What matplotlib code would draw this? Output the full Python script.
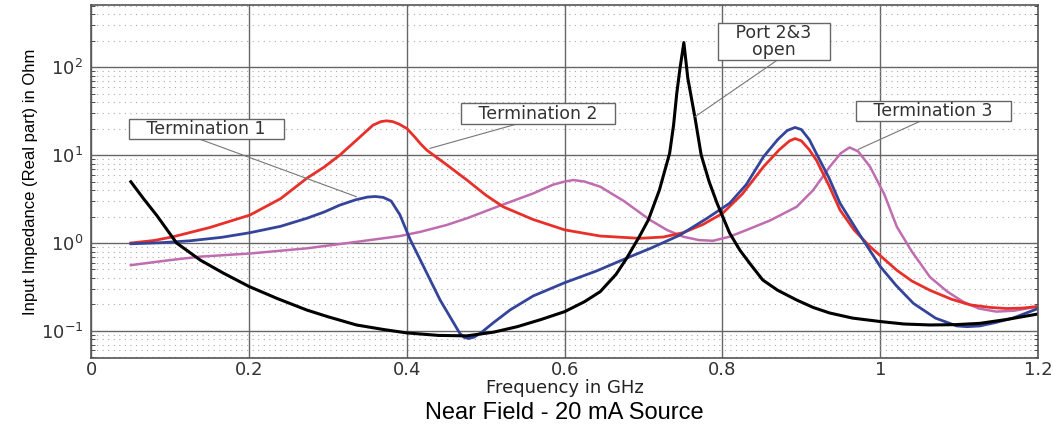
import matplotlib
matplotlib.use('Agg')
import matplotlib.pyplot as plt
from matplotlib.ticker import LogLocator, FixedLocator

# values (GHz, Ohm)
open_f = [0.05, 0.066, 0.083, 0.108, 0.138, 0.167, 0.2, 0.235, 0.273, 0.30, 0.336, 0.37,
          0.4, 0.44, 0.476, 0.51, 0.54, 0.57, 0.6, 0.625, 0.645, 0.665, 0.678, 0.695,
          0.706, 0.72, 0.733, 0.738, 0.742, 0.746, 0.751, 0.756, 0.765, 0.773, 0.783,
          0.793, 0.809, 0.822, 0.835, 0.851, 0.87, 0.894, 0.915, 0.936, 0.965, 1.0,
          1.03, 1.063, 1.095, 1.126, 1.16, 1.2]
open_z = [4.97, 3.2, 2.05, 1.0, 0.64, 0.456, 0.32, 0.235, 0.173, 0.145, 0.117, 0.104,
          0.095, 0.089, 0.088, 0.097, 0.112, 0.135, 0.166, 0.215, 0.28, 0.44, 0.66, 1.2,
          1.83, 4.0, 10.5, 22, 50, 95, 190, 75, 27, 10, 5.0,
          2.85, 1.3, 0.83, 0.58, 0.38, 0.29, 0.225, 0.185, 0.16, 0.14, 0.128,
          0.12, 0.117, 0.118, 0.122, 0.135, 0.156]

t1_f = [0.05, 0.09, 0.125, 0.165, 0.201, 0.24, 0.273, 0.295, 0.315, 0.335, 0.35, 0.36,
        0.37, 0.38, 0.391, 0.404, 0.417, 0.442, 0.467, 0.472, 0.478, 0.485, 0.493, 0.51,
        0.531, 0.56, 0.6, 0.64, 0.678, 0.71, 0.746, 0.78, 0.809, 0.83, 0.852, 0.87,
        0.882, 0.892, 0.9, 0.91, 0.919, 0.935, 0.949, 0.975, 1.0, 1.02, 1.042, 1.07,
        1.097, 1.11, 1.126, 1.145, 1.168, 1.2]
t1_z = [0.98, 1.01, 1.06, 1.16, 1.31, 1.55, 1.91, 2.25, 2.7, 3.1, 3.33, 3.38,
        3.3, 3.0, 2.1, 1.1, 0.64, 0.225, 0.094, 0.085, 0.082, 0.085, 0.094, 0.125,
        0.174, 0.25, 0.354, 0.48, 0.67, 0.88, 1.23, 1.9, 2.83, 4.6, 9.57, 15,
        19, 20.6, 19.5, 15, 10.4, 5.5, 2.83, 1.2, 0.54, 0.33, 0.206, 0.14,
        0.114, 0.112, 0.114, 0.124, 0.14, 0.18]

t2_f = [0.05, 0.08, 0.104, 0.15, 0.201, 0.24, 0.273, 0.295, 0.315, 0.335, 0.357, 0.367,
        0.374, 0.382, 0.39, 0.4, 0.41, 0.417, 0.425, 0.45, 0.476, 0.5, 0.522, 0.56,
        0.6, 0.645, 0.695, 0.725, 0.75, 0.775, 0.8, 0.825, 0.852, 0.872, 0.885, 0.892,
        0.9, 0.91, 0.919, 0.935, 0.949, 0.967, 0.987, 1.021, 1.04, 1.063, 1.09, 1.114,
        1.14, 1.16, 1.18, 1.2]
t2_z = [1.0, 1.07, 1.18, 1.5, 2.08, 3.2, 5.44, 7.3, 10, 14.5, 21.9, 24,
        24.5, 24, 22.5, 20, 16, 13.5, 11.4, 7.8, 5.2, 3.5, 2.58, 1.85,
        1.41, 1.2, 1.13, 1.17, 1.31, 1.62, 2.17, 3.6, 7.37, 11.5, 14.5, 15.4,
        14.5, 11.5, 8.77, 4.5, 2.37, 1.4, 0.91, 0.49, 0.37, 0.29, 0.23, 0.198,
        0.185, 0.18, 0.182, 0.19]

t3_f = [0.05, 0.1, 0.138, 0.201, 0.273, 0.336, 0.391, 0.417, 0.45, 0.476, 0.52, 0.56,
        0.585, 0.6, 0.611, 0.625, 0.645, 0.675, 0.708, 0.73, 0.75, 0.77, 0.788, 0.809,
        0.83, 0.86, 0.894, 0.915, 0.936, 0.95, 0.961, 0.972, 0.987, 1.005, 1.021, 1.04,
        1.063, 1.085, 1.105, 1.125, 1.147, 1.17, 1.2]
t3_z = [0.56, 0.64, 0.70, 0.76, 0.87, 1.03, 1.2, 1.34, 1.6, 1.91, 2.7, 3.66,
        4.6, 5.0, 5.2, 5.0, 4.37, 3.0, 1.83, 1.4, 1.18, 1.08, 1.06, 1.18,
        1.4, 1.8, 2.58, 4.0, 7.37, 10.5, 12.2, 11.0, 7.37, 3.6, 1.53, 0.8,
        0.41, 0.28, 0.215, 0.18, 0.166, 0.17, 0.19]

labels = ['   Termination 1   ', '   Termination 2   ', '   Port 2&3   \nopen',
          '   Termination 3   ']
label_pos = [(0.1455, 19.8), (0.566, 29.5), (0.865, 195), (1.067, 31.6)]
arrow_tip = [(0.336, 3.36), (0.429, 11.9), (0.765, 27.2), (0.972, 11.6)]
arrow_base = [(0.1377, 15.1), (0.539, 22.5), (0.8706, 122), (1.054, 25.0)]

fig = plt.figure(figsize=(10.53, 4.24), dpi=100)
ax = fig.add_axes([0.0868, 0.1557, 0.899, 0.8323])

ax.plot(t3_f, t3_z, color='#c06cb0', lw=1.8)
ax.plot(t2_f, t2_z, color='#e8302a', lw=2)
ax.plot(t1_f, t1_z, color='#34449a', lw=2)
ax.plot(open_f, open_z, color='black', lw=2.2)

ax.set_yscale('log')
ax.set_xlim(0, 1.2)
ax.set_ylim(0.0493, 507)
ax.xaxis.set_major_locator(FixedLocator([0, 0.2, 0.4, 0.6, 0.8, 1.0, 1.2]))
ax.set_xticklabels(['0', '0.2', '0.4', '0.6', '0.8', '1', '1.2'])
ax.yaxis.set_major_locator(FixedLocator([0.1, 1, 10, 100]))
ax.set_yticklabels([r'$\mathregular{10^{-1}}$', r'$\mathregular{10^{0}}$',
                    r'$\mathregular{10^{1}}$', r'$\mathregular{10^{2}}$'])
ax.yaxis.set_minor_locator(LogLocator(base=10, subs=range(2, 10)))

ax.grid(True, which='major', color='#666666', lw=1)
ax.grid(True, which='minor', axis='y', color='#aaaaaa', lw=0.8, ls=(0, (1, 4)))
ax.tick_params(which='both', direction='in', left=True, right=True, top=False, bottom=False,
               labelsize=13, colors='#333333')
ax.tick_params(axis='x', pad=2)
ax.tick_params(axis='y', pad=6)
ax.tick_params(which='major', length=0)
ax.tick_params(which='minor', length=3)
for s in ax.spines.values():
    s.set_color('#555555')
    s.set_linewidth(1.2)

ax.set_xlabel('Frequency in GHz', fontsize=13, labelpad=0, color='#222222')
ax.set_ylabel('Input Impedance (Real part) in Ohm', fontsize=12, labelpad=2,
              family=['Liberation Sans Narrow', 'Liberation Sans'])

for txt, pos, tip, base in zip(labels, label_pos, arrow_tip, arrow_base):
    ax.annotate('', xy=tip, xytext=base,
                arrowprops=dict(arrowstyle='-', color='#777777', lw=0.8,
                                shrinkA=0, shrinkB=0))
    ax.text(pos[0], pos[1], txt, ha='center', va='center', fontsize=12.5,
            linespacing=0.9, color='#333333',
            bbox=dict(boxstyle='square,pad=0.08', fc='white', ec='#666666', lw=1))

fig.text(0.536, 0.026, 'Near Field - 20 mA Source', ha='center', va='center', fontsize=17,
         family=['Liberation Sans Narrow', 'Liberation Sans'])

fig.savefig('out.png', dpi=100)
